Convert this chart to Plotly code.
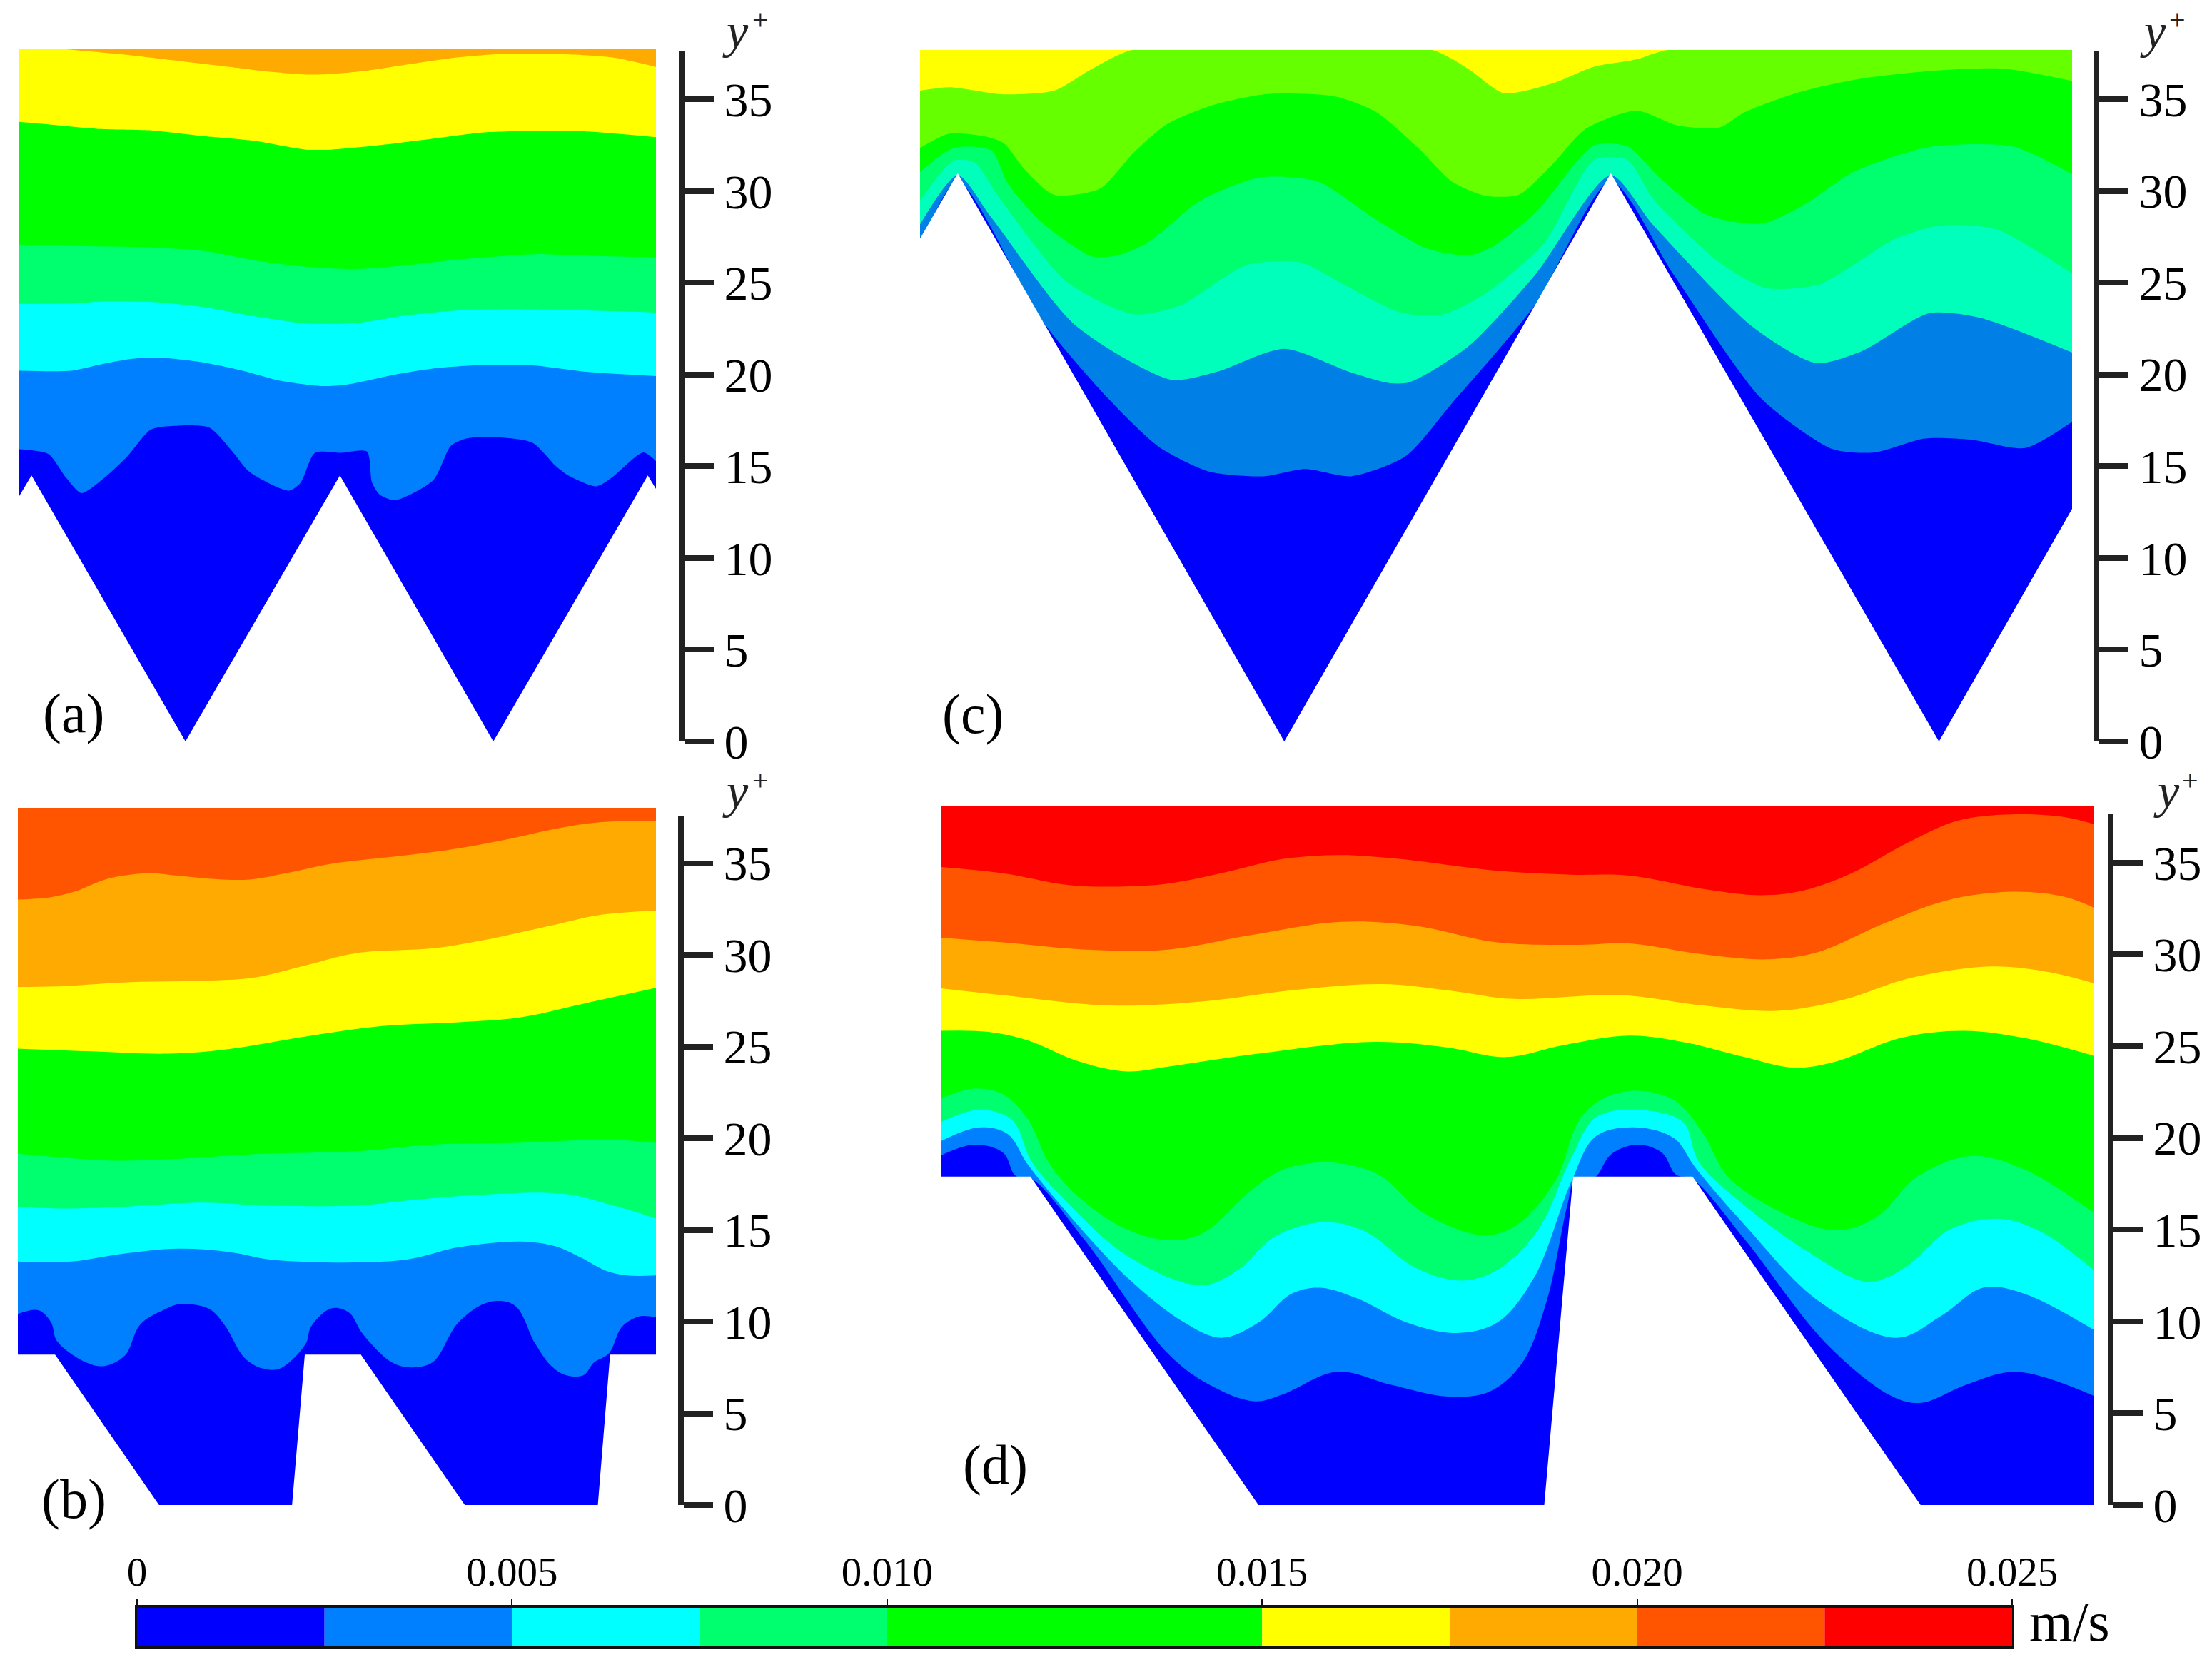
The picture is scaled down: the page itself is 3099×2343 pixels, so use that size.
# -*- coding: utf-8 -*-
import plotly.graph_objects as go

W, H = 3099, 2343
SERIF = 'Liberation Serif'

# colour levels (same as the legend bar, panel c has its own blues/greens)
DARK, BLUE, CYAN, MINT, GREEN = '#0000FF', '#007FFF', '#00FFFF', '#00FF6E', '#00FF00'
YELLOW, ORANGE, REDORANGE, RED = '#FFFF00', '#FFAA00', '#FF5500', '#FF0000'
C_BLUE, C_TEAL, C_LIME = '#007FE6', '#00FFBB', '#66FF00'

YTICKS = [0, 5, 10, 15, 20, 25, 30, 35]
BAR_EDGES = [0, 0.0025, 0.005, 0.0075, 0.010, 0.015, 0.0175, 0.020, 0.0225]
BAR_WIDTHS = [0.0025, 0.0025, 0.0025, 0.0025, 0.005, 0.0025, 0.0025, 0.0025, 0.0025]
BAR_COLORS = [DARK, BLUE, CYAN, MINT, GREEN, YELLOW, ORANGE, REDORANGE, RED]
BAR_TICKS = [0, 0.005, 0.010, 0.015, 0.020, 0.025]
BAR_LABELS = ['0', '0.005', '0.010', '0.015', '0.020', '0.025']

# panel a: x is spanwise position (arbitrary hidden scale), y is y+
A_RANGE = [38, 1287]
A_TOP = 37.73
A_YELLOW_X = [38, 130, 250, 350, 450, 530, 600, 650, 720, 800, 900, 980, 1100, 1200, 1287]
A_YELLOW_Y = [37.94, 37.73, 37.42, 37.1, 36.77, 36.5, 36.35, 36.38, 36.56, 36.9, 37.29, 37.47, 37.47, 37.29, 36.77]
A_GREEN_X = [38, 100, 200, 300, 400, 500, 600, 650, 750, 850, 950, 1050, 1150, 1287]
A_GREEN_Y = [33.77, 33.62, 33.38, 33.3, 32.99, 32.73, 32.26, 32.26, 32.52, 32.86, 33.2, 33.28, 33.25, 32.94]
A_MINT_X = [38, 150, 300, 400, 500, 600, 700, 800, 900, 1050, 1150, 1287]
A_MINT_Y = [27.08, 27, 26.92, 26.74, 26.22, 25.88, 25.75, 25.96, 26.27, 26.56, 26.48, 26.38]
A_CYAN_X = [38, 150, 200, 300, 400, 500, 600, 700, 800, 900, 1000, 1150, 1287]
A_CYAN_Y = [23.85, 23.88, 23.98, 23.95, 23.67, 23.17, 22.78, 22.81, 23.23, 23.49, 23.56, 23.49, 23.38]
A_BLUE_X = [38, 140, 200, 260, 320, 400, 480, 550, 630, 680, 780, 860, 950, 1050, 1150, 1287]
A_BLUE_Y = [20.21, 20.21, 20.57, 20.86, 20.91, 20.65, 20.18, 19.66, 19.37, 19.45, 20.02, 20.36, 20.52, 20.49, 20.15, 19.92]
A_DARK_X = [38, 95, 130, 160, 205, 250, 295, 330, 410, 460, 490, 567, 590, 618, 670, 720, 730, 745, 775, 850, 885, 915, 970, 1045, 1090, 1115, 1170, 1200, 1262, 1287]
A_DARK_Y = [15.93, 15.67, 14.37, 13.54, 14.37, 15.54, 16.98, 17.18, 17.11, 15.67, 14.68, 13.67, 14.11, 15.73, 15.73, 15.8, 14.11, 13.46, 13.15, 14.24, 16.12, 16.51, 16.59, 16.28, 15.02, 14.5, 13.91, 14.37, 15.75, 15.28]
A_WALL_X = [38, 62, 364, 667, 968, 1271, 1287]
A_WALL_Y = [13.38, 14.5, 0, 14.5, 0, 14.5, 13.77]

# panel b
B_RANGE = [35, 1287]
B_TOP = 38.02
B_ORANGE_X = [35, 100, 150, 210, 290, 350, 420, 490, 560, 650, 800, 900, 1000, 1100, 1180, 1287]
B_ORANGE_Y = [33.02, 33.15, 33.49, 34.14, 34.45, 34.32, 34.14, 34.11, 34.45, 34.97, 35.44, 35.81, 36.33, 36.93, 37.24, 37.31]
B_YELLOW_X = [35, 110, 250, 400, 500, 600, 700, 850, 950, 1100, 1180, 1287]
B_YELLOW_Y = [28.25, 28.28, 28.51, 28.59, 28.77, 29.43, 30.1, 30.36, 30.81, 31.72, 32.19, 32.42]
B_GREEN_X = [35, 180, 330, 450, 600, 750, 900, 1020, 1150, 1287]
B_GREEN_Y = [24.89, 24.74, 24.61, 24.87, 25.55, 26.12, 26.33, 26.59, 27.37, 28.2]
B_MINT_X = [35, 120, 220, 350, 500, 700, 850, 1000, 1150, 1240, 1287]
B_MINT_Y = [19.17, 18.96, 18.78, 18.88, 19.14, 19.29, 19.66, 19.74, 19.9, 19.87, 19.74]
B_CYAN_X = [35, 120, 250, 400, 520, 700, 800, 950, 1110, 1200, 1287]
B_CYAN_Y = [16.28, 16.17, 16.28, 16.49, 16.33, 16.33, 16.61, 16.93, 16.96, 16.36, 15.63]
B_BLUE_X = [35, 140, 240, 350, 450, 540, 790, 900, 1020, 1090, 1140, 1190, 1230, 1287]
B_BLUE_Y = [13.28, 13.28, 13.7, 13.98, 13.8, 13.36, 13.36, 14.06, 14.37, 14.11, 13.49, 12.76, 12.52, 12.52]
B_DARK_X = [35, 75, 100, 112, 170, 205, 245, 275, 320, 355, 410, 440, 480, 515, 550, 600, 610, 650, 685, 712, 770, 810, 850, 900, 960, 1010, 1050, 1080, 1110, 1145, 1165, 1195, 1220, 1255, 1287]
B_DARK_Y = [10.42, 10.62, 9.97, 8.93, 7.76, 7.58, 8.15, 9.84, 10.62, 10.96, 10.7, 9.84, 8.02, 7.45, 7.45, 8.8, 9.71, 10.72, 10.49, 9.32, 7.76, 7.5, 7.81, 9.97, 11.07, 10.88, 8.8, 7.63, 7.08, 7.08, 7.76, 8.28, 9.71, 10.29, 10.23]
B_WALL_X = [35, 108, 312, 573, 598, 708, 912, 1173, 1197, 1287]
B_WALL_Y = [8.2, 8.2, 0, 0, 8.2, 8.2, 0, 0, 8.2, 8.2]

# panel c
C_RANGE = [25, 1401]
C_TOP = 37.68
C_LIME_X = [25, 60, 125, 185, 230, 280, 635, 680, 722, 780, 830, 880, 920, 1401]
C_LIME_Y = [35.46, 35.65, 35.26, 35.46, 36.64, 37.7, 37.7, 36.64, 35.33, 35.85, 36.77, 37.16, 37.7, 37.9]
C_GREEN_X = [25, 60, 100, 125, 150, 185, 240, 280, 320, 375, 440, 520, 570, 620, 660, 700, 740, 780, 820, 880, 930, 980, 1010, 1075, 1150, 1240, 1320, 1401]
C_GREEN_Y = [32.34, 33.12, 32.99, 32.6, 31.17, 29.79, 30.13, 32.08, 33.64, 34.68, 35.28, 35.15, 34.29, 32.34, 30.52, 29.74, 29.79, 31.43, 33.38, 34.37, 33.56, 33.46, 34.29, 35.38, 36.12, 36.56, 36.66, 35.99]
C_MINT_X = [25, 65, 110, 130, 170, 230, 260, 295, 360, 430, 500, 570, 630, 680, 710, 760, 830, 870, 910, 965, 1030, 1080, 1140, 1230, 1330, 1401]
C_MINT_Y = [31.04, 32.34, 32.21, 30.39, 28.3, 26.43, 26.48, 27.13, 29.48, 30.73, 30.52, 28.43, 26.87, 26.48, 27.0, 28.82, 32.47, 32.42, 30.65, 28.69, 28.22, 29.22, 31.04, 32.39, 32.42, 30.91]
C_TEAL_X = [25, 65, 90, 120, 200, 280, 335, 415, 480, 530, 600, 650, 700, 770, 830, 870, 900, 980, 1035, 1100, 1190, 1245, 1310, 1401]
C_TEAL_Y = [29.48, 31.64, 31.56, 29.6, 25.05, 23.28, 23.75, 25.96, 26.09, 24.92, 23.36, 23.28, 24.4, 27.13, 31.69, 31.69, 29.6, 26.09, 24.71, 24.92, 27.39, 28.12, 27.91, 25.49]
C_BLUE_X = [25, 70, 110, 210, 325, 380, 460, 540, 585, 610, 680, 760, 850, 900, 1020, 1095, 1150, 1230, 1290, 1401]
C_BLUE_Y = [28.17, 30.85, 28.56, 22.7, 19.71, 20.15, 21.4, 20.1, 19.53, 19.58, 21.53, 25.44, 30.85, 28.17, 22.57, 20.62, 21.27, 23.33, 23.1, 21.19]
C_DARK_X = [25, 70, 170, 250, 310, 370, 435, 485, 540, 605, 660, 760, 850, 925, 1030, 1115, 1165, 1225, 1280, 1345, 1401]
C_DARK_Y = [27, 30.52, 22.97, 18.67, 16.06, 14.71, 14.45, 14.84, 14.45, 15.54, 18.41, 23.82, 30.52, 25.44, 18.67, 15.93, 15.75, 16.51, 16.45, 15.99, 17.42]
C_WALL_X = [25, 70, 460, 850, 1242, 1401]
C_WALL_Y = [27.39, 30.96, 0, 30.96, 0, 12.68]

# panel d
D_RANGE = [25, 1424]
D_TOP = 38.06
D_REDORANGE_X = [25, 100, 180, 240, 300, 370, 440, 510, 580, 700, 790, 860, 950, 1020, 1070, 1130, 1200, 1260, 1330, 1390, 1424]
D_REDORANGE_Y = [34.76, 34.42, 33.77, 33.69, 33.85, 34.47, 35.2, 35.41, 35.2, 34.55, 34.34, 34.29, 33.56, 33.22, 33.46, 34.42, 36.12, 37.29, 37.63, 37.47, 37.1]
D_ORANGE_X = [25, 100, 200, 300, 400, 510, 600, 700, 800, 860, 950, 1030, 1090, 1170, 1250, 1330, 1390, 1424]
D_ORANGE_Y = [30.91, 30.65, 30.26, 30.26, 31.04, 31.77, 31.56, 30.65, 30.52, 30.6, 30, 29.73, 30.13, 31.69, 32.99, 33.41, 33.12, 32.55]
D_YELLOW_X = [25, 100, 230, 350, 450, 560, 640, 720, 850, 950, 1040, 1120, 1200, 1300, 1370, 1424]
D_YELLOW_Y = [28.15, 27.78, 27.21, 27.47, 28.04, 28.38, 28.04, 27.57, 27.78, 27.21, 26.92, 27.52, 28.69, 29.34, 29.03, 28.43]
D_GREEN_X = [25, 80, 130, 190, 250, 300, 400, 550, 640, 710, 780, 860, 930, 1000, 1060, 1110, 1190, 1265, 1340, 1424]
D_GREEN_Y = [25.83, 25.78, 25.31, 24.19, 23.62, 23.88, 24.53, 25.23, 24.92, 24.4, 25.05, 25.57, 25.18, 24.4, 23.82, 24.14, 25.44, 25.83, 25.44, 24.47]
D_MINT_X = [25, 65, 100, 130, 155, 190, 250, 305, 345, 400, 440, 495, 555, 610, 680, 720, 770, 800, 830, 870, 915, 950, 980, 1040, 1110, 1160, 1210, 1275, 1340, 1424]
D_MINT_Y = [22.18, 22.68, 22.37, 21.01, 18.67, 16.84, 15.02, 14.42, 14.89, 17.11, 18.28, 18.67, 18.02, 15.93, 14.71, 15.15, 17.63, 21.01, 22.18, 22.57, 22.05, 20.23, 17.89, 16.06, 14.97, 15.67, 17.89, 19.01, 18.28, 15.93]
D_CYAN_X = [25, 70, 110, 135, 170, 250, 340, 385, 430, 490, 540, 600, 655, 700, 750, 790, 820, 870, 925, 945, 1000, 1080, 1150, 1195, 1250, 1310, 1360, 1424]
D_CYAN_Y = [20.88, 21.53, 21.01, 18.67, 16.84, 13.59, 11.97, 12.81, 14.63, 15.41, 14.89, 12.94, 12.23, 12.81, 15.02, 18.93, 21.14, 21.53, 20.88, 18.67, 16.32, 13.72, 12.16, 12.94, 15.02, 15.59, 14.89, 12.81]
D_BLUE_X = [25, 70, 105, 130, 170, 250, 320, 365, 410, 450, 485, 530, 590, 650, 700, 745, 790, 820, 870, 915, 940, 1000, 1090, 1185, 1240, 1290, 1340, 1424]
D_BLUE_Y = [19.84, 20.57, 20.23, 18.54, 16.32, 12.42, 9.94, 9.11, 9.94, 11.51, 11.84, 11.25, 9.94, 9.37, 9.94, 12.42, 17.63, 20.1, 20.57, 19.97, 18.41, 15.28, 11.12, 9.11, 10.33, 11.84, 11.51, 9.55]
D_DARK_X = [25, 65, 100, 115, 135, 200, 300, 350, 405, 440, 505, 570, 640, 690, 730, 760, 785, 795, 815, 822, 838, 870, 900, 917, 937, 1000, 1100, 1180, 1215, 1270, 1330, 1424]
D_DARK_Y = [19.06, 19.63, 19.19, 17.94, 17.76, 14.37, 8.25, 6.56, 5.65, 6.04, 7.26, 6.56, 5.91, 6.17, 7.73, 11.12, 16.32, 17.76, 17.76, 18.0, 19.1, 19.63, 19.19, 18.0, 17.76, 14.5, 8.77, 5.91, 5.57, 6.56, 7.26, 5.96]
D_WALL_X = [25, 133, 410, 757, 792, 937, 1214, 1424]
D_WALL_Y = [17.89, 17.89, 0, 0, 17.89, 17.89, 0, 0]

# layout of the four panels, in page pixels
panels = [
    dict(name='a', left=27, right=919, top=69, zero=1039, axis_x=955, axis_top=71, yrange=A_TOP, xrange=A_RANGE,
         smooth=0.7, wall=(A_WALL_X, A_WALL_Y), label=(103, 999), ylab=(1030, 44), plus=(1065, 28),
         top_color=ORANGE,
         bands=[(YELLOW, A_YELLOW_X, A_YELLOW_Y), (GREEN, A_GREEN_X, A_GREEN_Y), (MINT, A_MINT_X, A_MINT_Y),
                (CYAN, A_CYAN_X, A_CYAN_Y), (BLUE, A_BLUE_X, A_BLUE_Y), (DARK, A_DARK_X, A_DARK_Y)]),
    dict(name='b', left=25, right=919, top=1132, zero=2109, axis_x=954, axis_top=1143, yrange=B_TOP, xrange=B_RANGE,
         smooth=1.0, wall=(B_WALL_X, B_WALL_Y), label=(103, 2100), ylab=(1030, 1109), plus=(1065, 1093),
         top_color=REDORANGE,
         bands=[(ORANGE, B_ORANGE_X, B_ORANGE_Y), (YELLOW, B_YELLOW_X, B_YELLOW_Y), (GREEN, B_GREEN_X, B_GREEN_Y),
                (MINT, B_MINT_X, B_MINT_Y), (CYAN, B_CYAN_X, B_CYAN_Y), (BLUE, B_BLUE_X, B_BLUE_Y),
                (DARK, B_DARK_X, B_DARK_Y)]),
    dict(name='c', left=1289, right=2903, top=70, zero=1039, axis_x=2937, axis_top=71, yrange=C_TOP, xrange=C_RANGE,
         smooth=0.7, wall=(C_WALL_X, C_WALL_Y), label=(1363, 1000), ylab=(3016, 44), plus=(3050, 28),
         top_color=YELLOW,
         bands=[(C_LIME, C_LIME_X, C_LIME_Y), (GREEN, C_GREEN_X, C_GREEN_Y), (MINT, C_MINT_X, C_MINT_Y),
                (C_TEAL, C_TEAL_X, C_TEAL_Y), (C_BLUE, C_BLUE_X, C_BLUE_Y), (DARK, C_DARK_X, C_DARK_Y)]),
    dict(name='d', left=1319, right=2933, top=1130, zero=2109, axis_x=2957, axis_top=1141, yrange=D_TOP, xrange=D_RANGE,
         smooth=1.0, wall=(D_WALL_X, D_WALL_Y), label=(1394, 2052), ylab=(3035, 1109), plus=(3068, 1093),
         top_color=RED,
         bands=[(REDORANGE, D_REDORANGE_X, D_REDORANGE_Y), (ORANGE, D_ORANGE_X, D_ORANGE_Y),
                (YELLOW, D_YELLOW_X, D_YELLOW_Y), (GREEN, D_GREEN_X, D_GREEN_Y), (MINT, D_MINT_X, D_MINT_Y),
                (CYAN, D_CYAN_X, D_CYAN_Y), (BLUE, D_BLUE_X, D_BLUE_Y), (DARK, D_DARK_X, D_DARK_Y)]),
]


def band(x, y, color, xa, ya, curve='linear', smooth=1.0):
    return go.Scatter(x=x, y=y, mode='lines', line=dict(width=0, shape=curve, smoothing=smooth), fill='tozeroy',
                      fillcolor=color, xaxis=xa, yaxis=ya, hoverinfo='skip', showlegend=False)


def note(text, pos, size, color='#000000'):
    return dict(text=text, x=pos[0] / W, y=1 - pos[1] / H, xref='paper', yref='paper', showarrow=False,
                xanchor='center', yanchor='middle', font=dict(family=SERIF, size=size, color=color))


fig = go.Figure()
layout = {}
annotations = []

for i, p in enumerate(panels):
    xn, yn, tn = 3 * i + 1, 3 * i + 2, 3 * i + 3
    xa, ya, ta = f'x{xn}', f'y{yn}', f'y{tn}'
    # contours: painted from the top level down, wall profile last
    fig.add_trace(band(p['xrange'], [p['yrange'], p['yrange']], p['top_color'], xa, ya))
    for color, bx, by in p['bands']:
        fig.add_trace(band(bx, by, color, xa, ya, 'spline', p['smooth']))
    fig.add_trace(band(p['wall'][0], p['wall'][1], '#FFFFFF', xa, ya))
    layout[f'xaxis{xn}'] = dict(domain=[p['left'] / W, p['right'] / W], range=p['xrange'], visible=False, anchor=ya)
    layout[f'yaxis{yn}'] = dict(domain=[1 - p['zero'] / H, 1 - p['top'] / H], range=[0, p['yrange']],
                                visible=False, anchor=xa)
    # separate y+ axis, its line stops a little below the top of the contours
    axis_top = p['yrange'] * (p['zero'] - p['axis_top']) / (p['zero'] - p['top'])
    fig.add_trace(go.Scatter(x=[p['xrange'][0]], y=[0], mode='markers', marker=dict(size=1, opacity=0),
                             xaxis=xa, yaxis=ta, hoverinfo='skip', showlegend=False))
    layout[f'yaxis{tn}'] = dict(domain=[1 - p['zero'] / H, 1 - p['axis_top'] / H], range=[0, axis_top],
                                anchor='free', position=p['axis_x'] / W, side='right', showgrid=False,
                                zeroline=False, showline=True, linecolor='#222222', linewidth=8,
                                ticks='outside', ticklen=41, tickwidth=8, tickcolor='#222222',
                                tickmode='array', tickvals=YTICKS, ticklabelstandoff=1,
                                tickfont=dict(family=SERIF, size=68, color='#000000'))
    annotations.append(note(f"({p['name']})", p['label'], 78))
    annotations.append(note('<i>y</i>', p['ylab'], 68, '#222222'))
    annotations.append(note('+', p['plus'], 40, '#222222'))

# legend bar
for start, width, color in zip(BAR_EDGES, BAR_WIDTHS, BAR_COLORS):
    fig.add_trace(go.Bar(x=[width], base=[start], y=[0], orientation='h', width=1, marker=dict(color=color, line=dict(width=0)),
                         xaxis='x13', yaxis='y13', hoverinfo='skip', showlegend=False))
layout['xaxis13'] = dict(domain=[192 / W, 2819 / W], range=[0, 0.025], anchor='y13', side='top', showgrid=False,
                         zeroline=False, showline=True, mirror=True, linecolor='#111111', linewidth=4,
                         ticks='outside', ticklen=8, tickwidth=2, tickcolor='#111111', tickmode='array',
                         tickvals=BAR_TICKS, ticktext=BAR_LABELS, ticklabelstandoff=-4,
                         tickfont=dict(family=SERIF, size=57, color='#000000'))
layout['yaxis13'] = dict(domain=[1 - 2307 / H, 1 - 2253 / H], range=[-0.5, 0.5], anchor='x13', showgrid=False,
                         zeroline=False, showline=True, mirror=True, linecolor='#111111', linewidth=3,
                         ticks='', showticklabels=False)
annotations.append(note('m/s', (2899, 2272), 78))

fig.update_layout(template='none', width=W, height=H, margin=dict(l=0, r=0, t=0, b=0), paper_bgcolor='#FFFFFF',
                  plot_bgcolor='rgba(0,0,0,0)', barmode='overlay', showlegend=False, hovermode=False,
                  annotations=annotations, **layout)
# default page has an 8px body margin, drop it so the figure fills the window
fig.write_html("out.html", config={'displayModeBar': False}, post_script="document.body.style.margin='0';")
